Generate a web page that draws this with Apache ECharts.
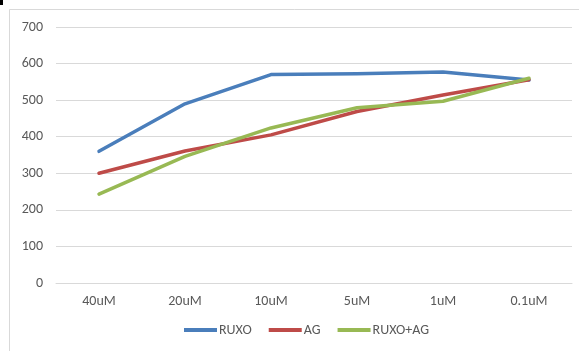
<!DOCTYPE html>
<html>
<head>
<meta charset="utf-8">
<script src="https://cdn.jsdelivr.net/npm/echarts@6/dist/echarts.min.js"></script>
<style>
  html, body { margin: 0; padding: 0; background: #fff; }
  #chart { width: 579px; height: 351px; }
</style>
</head>
<body>
<div id="chart"></div>
<script>
// Concentrations along the x axis
const categories = ['40uM', '20uM', '10uM', '5uM', '1uM', '0.1uM'];

// Series values
const ruxo = [360, 490, 570, 572, 577, 555];
const ag = [300, 361, 405, 469, 514, 556];
const ruxoAg = [243, 346, 424, 479, 497, 560];

// Value axis ticks
const yTicks = [0, 100, 200, 300, 400, 500, 600, 700];

const font = 'Carlito, "Open Sans", "Liberation Sans", sans-serif';
const chart = echarts.init(document.getElementById('chart'), null, { renderer: 'canvas' });

const lineSeries = (name, data, color) => ({
  name,
  type: 'line',
  data,
  symbol: 'none',
  smooth: false,
  lineStyle: { width: 3.5, color, cap: 'round', join: 'round' },
  itemStyle: { color },
  emphasis: { disabled: true }
});

chart.setOption({
  animation: false,
  backgroundColor: '#ffffff',
  graphic: [
    {
      type: 'rect',
      shape: { x: 9.5, y: 9.5, width: 620, height: 400 },
      style: { fill: 'none', stroke: '#d9d9d9', lineWidth: 1 },
      z: -1
    },
    {
      type: 'rect',
      shape: { x: 0, y: 0, width: 3, height: 5 },
      style: { fill: '#000' }
    }
  ],
  grid: { left: 56, right: 7, top: 27, bottom: 68, containLabel: false },
  legend: {
    bottom: 9,
    left: 179,
    icon: 'rect',
    itemWidth: 33,
    itemHeight: 4,
    itemGap: 17,
    textStyle: { color: '#595959', fontSize: 14, fontFamily: font, padding: [0, 0, 0, -3] },
    data: ['RUXO', 'AG', 'RUXO+AG']
  },
  xAxis: {
    type: 'category',
    data: categories,
    boundaryGap: true,
    axisLine: { show: true, lineStyle: { color: '#d9d9d9', width: 1 } },
    axisTick: { show: false },
    axisLabel: { color: '#595959', fontSize: 14, fontFamily: font, margin: 11 }
  },
  yAxis: {
    type: 'value',
    min: yTicks[0],
    max: yTicks[yTicks.length - 1],
    interval: 100,
    axisLine: { show: false },
    axisTick: { show: false },
    splitLine: { lineStyle: { color: '#d9d9d9', width: 1 } },
    axisLabel: { color: '#595959', fontSize: 14, fontFamily: font, margin: 13 }
  },
  series: [
    lineSeries('RUXO', ruxo, '#4A7EBB'),
    lineSeries('AG', ag, '#BE4B48'),
    lineSeries('RUXO+AG', ruxoAg, '#98B954')
  ]
});
</script>
</body>
</html>
